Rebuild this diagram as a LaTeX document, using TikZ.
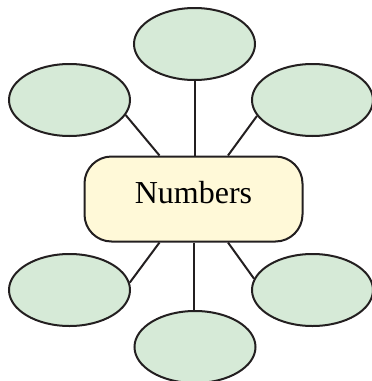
\documentclass[tikz,border=0pt]{standalone}
\usepackage{fontspec}
\setmainfont{Liberation Serif}
\usetikzlibrary{shapes.geometric}
\definecolor{ovalfill}{HTML}{D6EAD7}
\definecolor{boxfill}{HTML}{FFF9D8}
\definecolor{edge}{HTML}{231F20}
\tikzset{
  oval/.style={ellipse, draw=edge, line width=2pt, fill=ovalfill, minimum width=121pt, minimum height=72pt, inner sep=0pt},
  centerbox/.style={draw=edge, line width=2pt, fill=boxfill, rounded corners=27pt, minimum width=218pt, minimum height=85pt, inner sep=0pt, text height=22pt, text depth=14pt, font=\fontsize{32}{38}\selectfont},
  link/.style={draw=edge, line width=2pt}
}
\begin{document}
\begin{tikzpicture}[x=1pt,y=-1pt]
\useasboundingbox (0,0) rectangle (372,381);
\node[centerbox] (c) at (193.5,199) {Numbers};
\node[oval] (t) at (194.5,44) {};
\node[oval] (ul) at (69.5,100) {};
\node[oval] (ur) at (312.5,100) {};
\node[oval] (ll) at (69.5,290) {};
\node[oval] (lr) at (312.5,290) {};
\node[oval] (b) at (195,347) {};
\draw[link] (t.south) -- (t.south |- c.north);
\draw[link] (ul.-15) -- ([xshift=-34pt]c.north);
\draw[link] (ur.196) -- ([xshift=34.5pt]c.north);
\draw[link] (ll.7) -- ([xshift=-34pt]c.south);
\draw[link] (lr.169) -- ([xshift=34.5pt]c.south);
\draw[link] (c.south) -- (c.south |- b.north);
\end{tikzpicture}
\end{document}
